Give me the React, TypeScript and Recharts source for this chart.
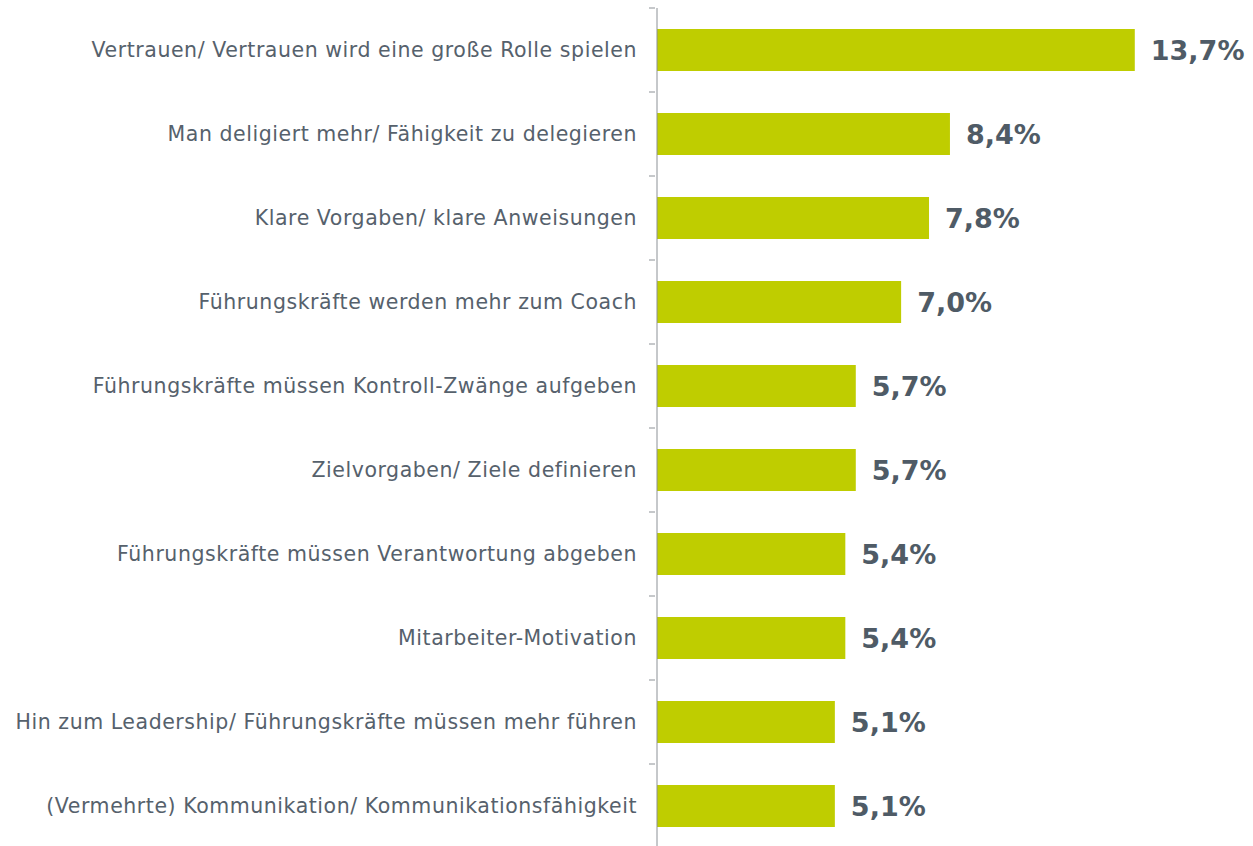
import { Bar, BarChart, LabelList, XAxis, YAxis } from "recharts";

const categories = [
  "Vertrauen/ Vertrauen wird eine große Rolle spielen",
  "Man deligiert mehr/ Fähigkeit zu delegieren",
  "Klare Vorgaben/ klare Anweisungen",
  "Führungskräfte werden mehr zum Coach",
  "Führungskräfte müssen Kontroll-Zwänge aufgeben",
  "Zielvorgaben/ Ziele definieren",
  "Führungskräfte müssen Verantwortung abgeben",
  "Mitarbeiter-Motivation",
  "Hin zum Leadership/ Führungskräfte müssen mehr führen",
  "(Vermehrte) Kommunikation/ Kommunikationsfähigkeit",
];

const shares = [13.7, 8.4, 7.8, 7.0, 5.7, 5.7, 5.4, 5.4, 5.1, 5.1];

const data = categories.map((name, i) => ({ name, share: shares[i] }));

const CHART_H = 848;
const TOP = 8;
const BAND = (CHART_H - TOP) / categories.length;

function CategoryTick(props: any) {
  const { x, y, payload } = props;
  const axisX = x + 6;
  return (
    <g>
      <line x1={axisX - 6} x2={axisX} y1={y - BAND / 2} y2={y - BAND / 2} stroke="#8c9196" strokeWidth={1} />
      <text
        x={x - 12}
        y={y}
        textAnchor="end"
        dominantBaseline="central"
        fill="#56616c"
        fontSize={20.5}
        letterSpacing={0.55}
        fontFamily="'DejaVu Sans', Verdana, sans-serif"
      >
        {payload.value}
      </text>
    </g>
  );
}

export default function App() {
  return (
    <div style={{ position: "absolute", left: 0, top: 0, width: 1253, height: 846, overflow: "hidden", background: "#fff" }}>
      <BarChart
        width={1253}
        height={CHART_H}
        data={data}
        layout="vertical"
        barCategoryGap="25%"
        margin={{ top: TOP, right: 38, left: 0, bottom: 0 }}
      >
        <XAxis type="number" domain={[0, 16]} hide />
        <YAxis
          type="category"
          dataKey="name"
          width={657}
          axisLine={{ stroke: "#8c9196", strokeWidth: 1 }}
          tickLine={false}
          tick={<CategoryTick />}
          interval={0}
        />
        <Bar dataKey="share" fill="#bfcd00" isAnimationActive={false}>
          <LabelList
            dataKey="share"
            position="right"
            offset={16}
            formatter={(v: any) => `${Number(v).toFixed(1).replace(".", ",")}%`}
            style={{
              fill: "#4f5b66",
              fontSize: 27,
              fontWeight: "bold",
              fontFamily: "'DejaVu Sans', Verdana, sans-serif",
            }}
          />
        </Bar>
      </BarChart>
    </div>
  );
}
